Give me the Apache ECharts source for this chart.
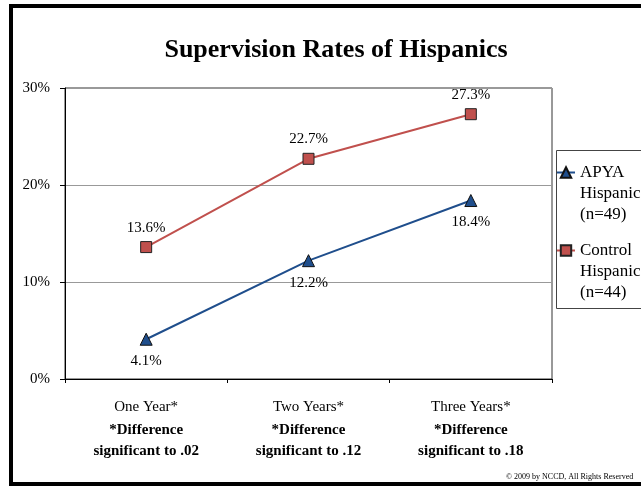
<!DOCTYPE html>
<html>
<head>
<meta charset="utf-8">
<script src="https://cdn.jsdelivr.net/npm/echarts@6/dist/echarts.min.js"></script>
<style>
  html, body { margin: 0; padding: 0; background: #fff; }
  #chart { width: 641px; height: 490px; }
</style>
</head>
<body>
<div id="chart"></div>
<script>
// Follow-up periods and the significance note printed under each one
const categories = ['One Year*', 'Two Years*', 'Three Years*'];
const notes = ['significant to .02', 'significant to .12', 'significant to .18'];

// Share of each group under supervision (%)
const apyaValues = [4.1, 12.2, 18.4];
const controlValues = [13.6, 22.7, 27.3];

const seriesNames = ['APYA\nHispanic\n(n=49)', 'Control\nHispanic\n(n=44)'];
const yTicks = [0, 10, 20, 30];

const serif = '"Liberation Serif", "Times New Roman", serif';

const chart = echarts.init(document.getElementById('chart'), null, { renderer: 'canvas' });

chart.setOption({
  animation: false,
  backgroundColor: '#fff',
  textStyle: { fontFamily: serif },
  title: {
    text: 'Supervision Rates of Hispanics',
    left: 331, top: 32, textAlign: 'center',
    textStyle: { fontFamily: serif, fontSize: 26, fontWeight: 'bold', color: '#000' }
  },
  grid: { left: 65, right: 89, top: 88, bottom: 111, show: true, borderColor: '#333', borderWidth: 1 },
  legend: {
    left: 556, top: 120,
    orient: 'vertical',
    itemWidth: 18, itemHeight: 13, itemGap: -27,
    padding: 0,
    selectedMode: false,
    // two empty lines on top keep the symbol level with the first text line
    formatter: name => '\n\n' + name,
    textStyle: { fontFamily: serif, fontSize: 17, color: '#000', lineHeight: 21 },
    data: seriesNames
  },
  xAxis: {
    type: 'category',
    data: categories,
    boundaryGap: true,
    axisLine: { lineStyle: { color: '#000', width: 1 } },
    axisTick: { show: true, length: 4, lineStyle: { color: '#000' } },
    axisLabel: {
      margin: 16,
      interval: 0,
      formatter: (v, i) => '{a|' + v + '}\n{b|*Difference}\n{b|' + notes[i] + '}',
      rich: {
        a: { fontFamily: serif, fontSize: 15, color: '#000', lineHeight: 25 },
        b: { fontFamily: serif, fontSize: 15, fontWeight: 'bold', color: '#000', lineHeight: 21 }
      }
    }
  },
  yAxis: {
    type: 'value',
    min: yTicks[0], max: yTicks[yTicks.length - 1], interval: 10,
    axisLine: { show: true, lineStyle: { color: '#000', width: 1 } },
    axisTick: { show: true, length: 5, lineStyle: { color: '#000' } },
    axisLabel: { formatter: '{value}%', fontFamily: serif, fontSize: 15, color: '#000', margin: 15 },
    splitLine: { lineStyle: { color: '#999', width: 1 } }
  },
  series: [
    {
      name: seriesNames[0],
      type: 'line',
      data: apyaValues,
      symbol: 'triangle', symbolSize: 12,
      lineStyle: { color: '#1F4E8C', width: 2 },
      itemStyle: { color: '#1F4E8C', borderColor: '#111', borderWidth: 1 },
      label: {
        show: true, position: 'bottom', distance: 8,
        formatter: p => p.value.toFixed(1) + '%',
        fontFamily: serif, fontSize: 15, color: '#000'
      }
    },
    {
      name: seriesNames[1],
      type: 'line',
      data: controlValues,
      symbol: 'rect', symbolSize: 11,
      lineStyle: { color: '#C0504D', width: 2 },
      itemStyle: { color: '#C0504D', borderColor: '#222', borderWidth: 1 },
      label: {
        show: true, position: 'top', distance: 6,
        formatter: p => p.value.toFixed(1) + '%',
        fontFamily: serif, fontSize: 15, color: '#000'
      }
    }
  ],
  graphic: [
    // outer frame (open on the right edge)
    { type: 'rect', shape: { x: 11, y: 6, width: 700, height: 478 }, style: { fill: null, stroke: '#000', lineWidth: 4 }, z: 10 },
    // legend box
    { type: 'rect', shape: { x: 556.5, y: 150.5, width: 120, height: 158 }, style: { fill: null, stroke: '#444', lineWidth: 1 }, z: 10 },
    {
      type: 'text', left: 506, top: 473,
      style: { text: '© 2009 by NCCD, All Rights Reserved', fontFamily: serif, fontSize: 8, fill: '#000' }
    }
  ]
});
</script>
</body>
</html>
